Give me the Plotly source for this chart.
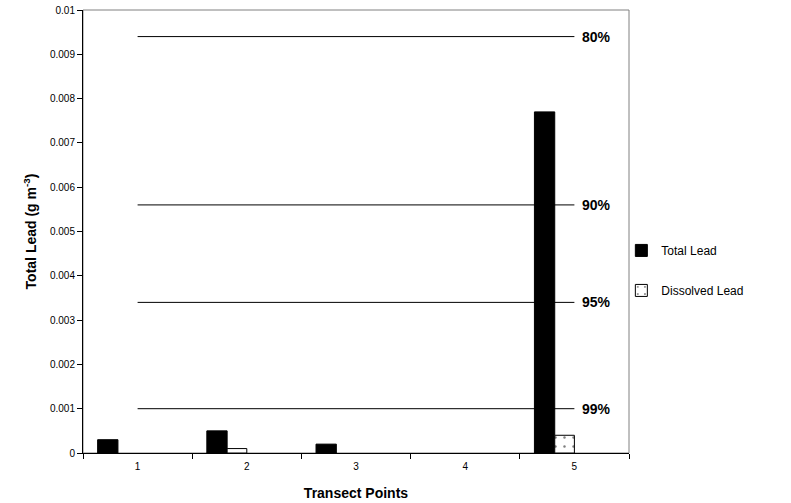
import plotly.graph_objects as go

categories = ["1", "2", "3", "4", "5"]
total_lead = [0.0003, 0.0005, 0.0002, 0.0, 0.0077]
dissolved_lead = [0.0, 0.0001, 0.0, 0.0, 0.0004]
pct_labels = ["80%", "90%", "95%", "99%"]
pct_values = [0.0094, 0.0056, 0.0034, 0.001]
y_ticks = [0, 0.001, 0.002, 0.003, 0.004, 0.005, 0.006, 0.007, 0.008, 0.009, 0.01]
y_ticktext = ["0", "0.001", "0.002", "0.003", "0.004", "0.005", "0.006", "0.007", "0.008", "0.009", "0.01"]

FONT = "Liberation Sans, Arial, sans-serif"


def nz(vals):
    return [v if v != 0 else None for v in vals]


fig = go.Figure()

for lab, val in zip(pct_labels, pct_values):
    fig.add_trace(go.Scatter(
        x=categories, y=[val] * len(categories), mode="lines",
        line=dict(color="black", width=1), showlegend=False, hoverinfo="skip",
    ))
    fig.add_annotation(
        x=len(categories) - 1, y=val, xref="x", yref="y", text="<b>" + lab + "</b>",
        showarrow=False, xanchor="left", yanchor="middle", xshift=6,
        font=dict(family=FONT, size=14, color="black"),
    )

fig.add_trace(go.Bar(
    x=categories, y=nz(total_lead), name="Total Lead",
    marker=dict(color="black", line=dict(color="black", width=1)),
    offset=-0.366, width=0.186, legendgroup="a",
))
fig.add_trace(go.Bar(
    x=categories, y=nz(dissolved_lead), name="Dissolved Lead",
    marker=dict(color="white", line=dict(color="black", width=1),
                pattern=dict(shape=".", fgcolor="black", bgcolor="white",
                             size=9, solidity=0.06)),
    offset=-0.18, width=0.18, legendgroup="b",
))

fig.update_layout(
    width=791, height=503,
    margin=dict(l=83, r=162, t=10, b=50, autoexpand=False),
    paper_bgcolor="white", plot_bgcolor="white",
    barmode="overlay",
    font=dict(family=FONT, size=10, color="black"),
    showlegend=True,
    legend=dict(x=0.986, xanchor="left", y=0.49, yanchor="top",
                font=dict(family=FONT, size=12, color="black"),
                tracegroupgap=21, traceorder="grouped",
                bgcolor="rgba(0,0,0,0)"),
    shapes=[dict(type="rect", xref="paper", yref="paper", x0=0, x1=1, y0=0, y1=1,
                 line=dict(color="#808080", width=1), layer="below")],
)

fig.update_xaxes(
    type="category", range=[-0.5, 4.5], tickson="boundaries", automargin=False,
    ticks="outside", ticklen=5, tickcolor="black", tickwidth=1, ticklabelstandoff=4,
    showline=True, linecolor="black", linewidth=1, showgrid=False, zeroline=False,
    tickfont=dict(family=FONT, size=10),
    title=dict(text="<b>Transect Points</b>", font=dict(family=FONT, size=14), standoff=17),
)
fig.update_yaxes(
    range=[0, 0.01], tickvals=y_ticks, ticktext=y_ticktext, automargin=False,
    ticks="outside", ticklen=5, tickcolor="black", tickwidth=1,
    showline=True, linecolor="black", linewidth=1, showgrid=False, zeroline=False,
    tickfont=dict(family=FONT, size=10),
    title=dict(text="<b>Total Lead (g m<sup>-3</sup>)</b>", font=dict(family=FONT, size=14), standoff=10),
)

fig.write_html("out.html", config={"displayModeBar": False},
               post_script="document.body.style.margin='0';document.body.style.padding='0';")
